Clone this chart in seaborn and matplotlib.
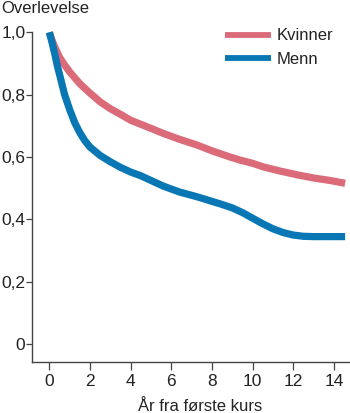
import matplotlib
matplotlib.use("Agg")
import matplotlib.pyplot as plt
import seaborn as sns
import pandas as pd

# Data
years_kvinner = [0, 0.1, 0.25, 0.5, 0.75, 1.0, 1.5, 2.0, 2.5, 3.0, 3.5, 4.0, 4.5, 5.0,
                 5.6, 6.4, 7.25, 8.0, 8.9, 9.4, 10.0, 10.5, 11.3, 12.2, 13.0, 13.8, 14.55]
surv_kvinner = [1.0, 0.98, 0.955, 0.92, 0.895, 0.873, 0.835, 0.805, 0.777, 0.755, 0.737,
                0.718, 0.705, 0.692, 0.676, 0.657, 0.639, 0.62, 0.6, 0.59, 0.58, 0.569,
                0.556, 0.543, 0.533, 0.525, 0.516]
years_menn = [0, 0.1, 0.25, 0.4, 0.5, 0.75, 1.0, 1.25, 1.5, 1.75, 2.0, 2.5, 3.0, 3.5, 4.0,
              4.5, 5.0, 5.6, 6.4, 7.25, 8.0, 8.5, 9.0, 9.5, 10.0, 10.5, 11.0, 11.5, 12.0,
              12.5, 13.0, 14.55]
surv_menn = [1.0, 0.975, 0.935, 0.89, 0.865, 0.8, 0.752, 0.71, 0.678, 0.652, 0.632, 0.605,
             0.585, 0.567, 0.552, 0.54, 0.525, 0.507, 0.488, 0.473, 0.458, 0.448, 0.437,
             0.422, 0.404, 0.386, 0.37, 0.358, 0.35, 0.346, 0.345, 0.345]
groups = ["Kvinner", "Menn"]
colors = ["#DB6B78", "#0877B3"]
x_ticks = [0, 2, 4, 6, 8, 10, 12, 14]
y_ticks = [0, 0.2, 0.4, 0.6, 0.8, 1.0]
y_ticklabels = ["0", "0,2", "0,4", "0,6", "0,8", "1,0"]

df = pd.concat([
    pd.DataFrame({"År": years_kvinner, "Overlevelse": surv_kvinner, "Kjønn": groups[0]}),
    pd.DataFrame({"År": years_menn, "Overlevelse": surv_menn, "Kjønn": groups[1]}),
], ignore_index=True)

sns.set_style("ticks")
plt.rcParams["font.family"] = ["Liberation Sans", "DejaVu Sans"]
FS = 12
FS_TICK = 12.5

W, H = 350, 413
fig = plt.figure(figsize=(W / 100, H / 100), dpi=100)
ax = fig.add_axes([32.3 / W, 1 - 361.7 / H, (350 - 32.3) / W, (361.7 - 32.3) / H])

sns.lineplot(data=df, x="År", y="Overlevelse", hue="Kjønn", hue_order=groups,
             palette=colors, linewidth=5.2, ax=ax, sort=True, estimator=None,
             solid_capstyle="butt", solid_joinstyle="round")
for ln in ax.lines:
    ln.set_clip_on(False)

ax.set_xlim(-0.84, 14.79)
ax.set_ylim(-0.056, 1.0)
ax.set_xticks(x_ticks)
ax.set_xticklabels([str(t) for t in x_ticks])
ax.set_yticks(y_ticks)
ax.set_yticklabels(y_ticklabels)
ax.set_xlabel("")
ax.set_ylabel("")
sns.despine(ax=ax)
for s in ["left", "bottom"]:
    ax.spines[s].set_color("#444444")
    ax.spines[s].set_linewidth(1.0)
ax.tick_params(axis="x", length=5.5, width=0.9, color="#444444", labelsize=FS_TICK,
               labelcolor="#222222", pad=3)
ax.tick_params(axis="y", length=4.5, width=0.9, color="#444444", labelsize=FS_TICK,
               labelcolor="#222222", pad=0.5)

fig.text(1 / W, 1 - 13.3 / H, "Overlevelse", fontsize=FS, color="#222222",
         ha="left", va="baseline")
fig.text(200 / W, 2.0 / H, "År fra første kurs", fontsize=FS, color="#222222",
         ha="center", va="baseline")

handles, labels = ax.get_legend_handles_labels()
leg = ax.legend(handles, labels, loc="upper left",
                bbox_to_anchor=(225 / W, 1 - 28.5 / H), bbox_transform=fig.transFigure,
                frameon=False, fontsize=FS, handlelength=2.75, handletextpad=0.35,
                labelspacing=0.5, borderpad=0, borderaxespad=0)
for h in leg.get_lines():
    h.set_linewidth(4.2)
for t in leg.get_texts():
    t.set_color("#222222")

fig.savefig("out.png", dpi=100)
